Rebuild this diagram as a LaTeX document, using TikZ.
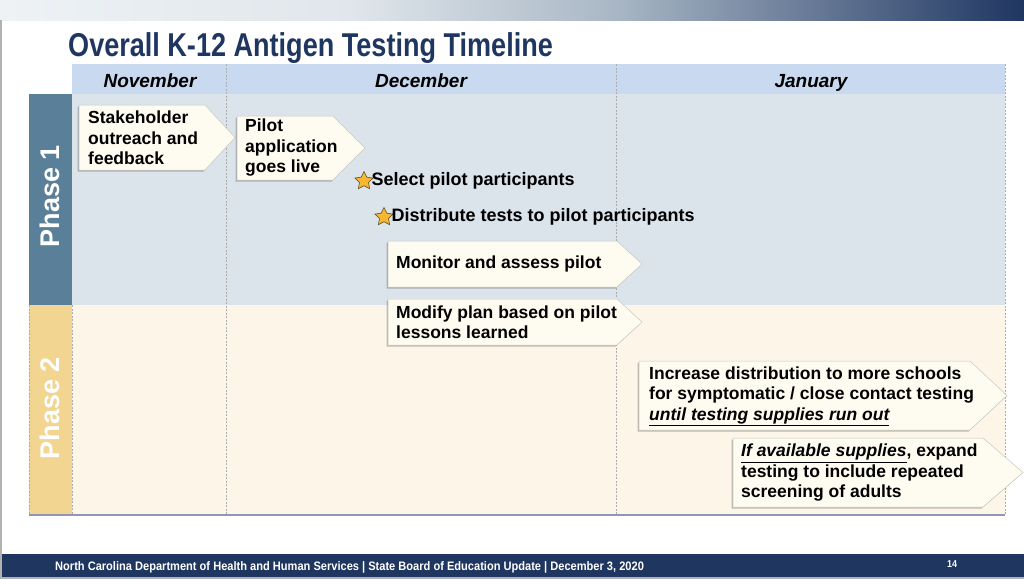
\documentclass[tikz,border=0pt]{standalone}
\usepackage{fontspec}
\setmainfont{Liberation Sans}
\newfontfamily\titlefont[FakeStretch=0.82]{Liberation Sans}
\newfontfamily\footfont[FakeStretch=0.9]{Liberation Sans}
\usetikzlibrary{positioning,calc,shapes.geometric,shadows}

\definecolor{navy}{HTML}{1F3661}
\definecolor{barlight}{HTML}{EEF2F5}
\definecolor{barmid}{HTML}{A9B7C5}
\definecolor{bardark}{HTML}{5E7190}
\definecolor{headerblue}{HTML}{C9D9EF}
\definecolor{bandone}{HTML}{DCE4EB}
\definecolor{bandtwo}{HTML}{FDF5E8}
\definecolor{phaseone}{HTML}{5A7F99}
\definecolor{phasetwo}{HTML}{F1D590}
\definecolor{boxcream}{HTML}{FEFCF1}
\definecolor{boxedge}{HTML}{C8C8C0}
\definecolor{starfill}{HTML}{F7B731}
\definecolor{stardraw}{HTML}{5A4A20}

\pgfdeclarehorizontalshading{topbar}{100bp}{color(0bp)=(barlight); color(25bp)=(barlight); color(42bp)=(barlight!80!barmid); color(55bp)=(barmid); color(66bp)=(bardark); color(75bp)=(navy); color(100bp)=(navy)}

\tikzset{
  tlbox/.style={fill=boxcream, draw=boxedge, line width=0.5pt,
    drop shadow={shadow xshift=-1.5pt, shadow yshift=-1.5pt, opacity=0.35, fill=black!70}},
  tltext/.style={font=\bfseries\fontsize{17.5}{20.5}\selectfont, align=left, anchor=west, inner sep=0pt},
  startext/.style={tltext, font=\bfseries\fontsize{18}{21}\selectfont},
  month/.style={font=\bfseries\itshape\fontsize{19}{22}\selectfont, inner sep=0pt, anchor=base},
  phase/.style={rotate=90, text=white, font=\bfseries\fontsize{27}{30}\selectfont, inner sep=0pt},
  divider/.style={draw=gray!65, dash pattern=on 2pt off 1.5pt, line width=0.8pt},
  goldstar/.style={star, star points=5, star point ratio=2.0, fill=starfill, draw=stardraw,
    line width=0.6pt, minimum size=19pt, inner sep=0pt},
}

\begin{document}
\begin{tikzpicture}[x=1pt, y=-1pt]
  \useasboundingbox (0,0) rectangle (1024,579);
  \fill[white] (0,0) rectangle (1024,579);

  % slide frame
  \shade[shading=topbar] (0,0) rectangle (1024,20);
  \fill[gray!60] (0,20) rectangle (2,579);
  \fill[gray!60] (0,577) rectangle (1024,579);

  \node[anchor=base west, text=navy, font=\titlefont\bfseries\fontsize{33}{36}\selectfont, inner sep=0pt]
    (title) at (68,56) {Overall K-12 Antigen Testing Timeline};

  % grid
  \fill[headerblue] (72,64) rectangle (1005,94);
  \fill[bandone] (72,94) rectangle (1005,305);
  \fill[bandtwo] (72,305) rectangle (1005,515);
  \fill[phaseone] (29,94) rectangle (72,305);
  \fill[phasetwo] (29,305) rectangle (72,515);
  \draw[divider] (29,305) -- (29,515);
  \draw[divider] (72,305) -- (72,515);
  \foreach \xd in {226,616,1005}
    \draw[divider] (\xd,64) -- (\xd,515);
  \draw[gray!80!blue!70, line width=1.2pt] (29,515) -- (1005,515);

  \node[month] (nov) at (150,87) {November};
  \node[month] (dec) at (421,87) {December};
  \node[month] (jan) at (811,87) {January};

  \node[phase] (ph1) at (50,196) {Phase 1};
  \node[phase] (ph2) at (50,408) {Phase 2};

  % arrows
  \draw[tlbox] (79,105) -- (205,105) -- (235,137.5) -- (205,170) -- (79,170) -- cycle;
  \node[tltext] (stake) at (88,138) {Stakeholder\\outreach and\\feedback};

  \draw[tlbox] (237,116) -- (333,116) -- (365,148) -- (333,180) -- (237,180) -- cycle;
  \node[tltext] (pilot) at (245,148) {Pilot\\application\\goes live};

  \node[goldstar] (star1) at (364,181) {};
  \node[startext, right=1pt of star1] (select) {Select pilot participants};
  \node[goldstar] (star2) at (384,217) {};
  \node[startext, right=1pt of star2] (distr) {Distribute tests to pilot participants};

  \draw[tlbox] (388,241) -- (617,241) -- (642,264) -- (617,287) -- (388,287) -- cycle;
  \node[tltext] (monitor) at (396,264) {Monitor and assess pilot};

  \draw[tlbox] (388,299) -- (617,299) -- (642,322) -- (617,345) -- (388,345) -- cycle;
  \node[tltext] (modify) at (396,322) {Modify plan based on pilot\\lessons learned};

  \draw[tlbox] (639,361) -- (970,361) -- (1007,395.5) -- (970,430) -- (639,430) -- cycle;
  \node[tltext] (increase) at (649,396) {Increase distribution to more schools\\for symptomatic / close contact testing\\\underline{\itshape until testing supplies run out}};

  \draw[tlbox] (733,438) -- (983,438) -- (1023,472.5) -- (983,507) -- (733,507) -- cycle;
  \node[tltext] (expand) at (741,473) {\underline{\itshape If available supplies}, expand\\testing to include repeated\\screening of adults};

  % footer
  \fill[navy] (2,554) rectangle (1024,577);
  \node[anchor=west, text=white, font=\footfont\bfseries\fontsize{12.3}{14}\selectfont, inner sep=0pt]
    (foot) at (55,567) {North Carolina Department of Health and Human Services | State Board of Education Update | December 3, 2020};
  \node[text=white, font=\footfont\bfseries\fontsize{10}{12}\selectfont, inner sep=0pt] (page) at (952,564) {14};
\end{tikzpicture}
\end{document}
